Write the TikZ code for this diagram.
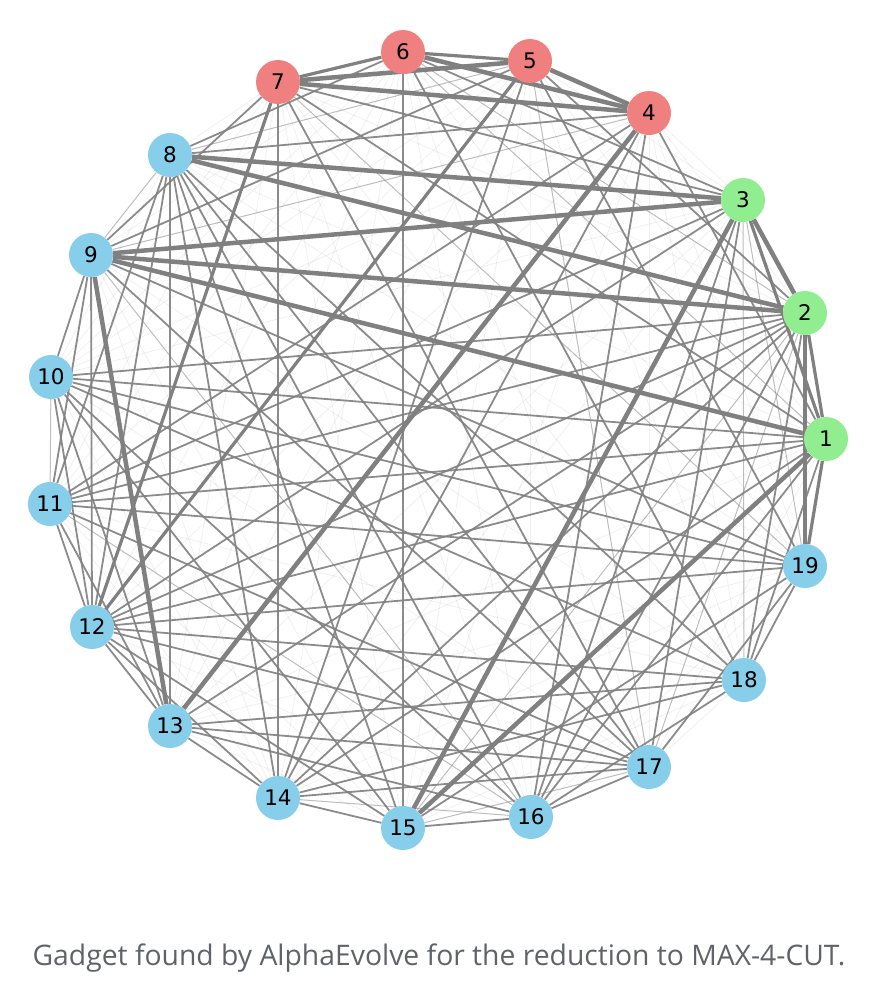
\documentclass[tikz,border=0pt]{standalone}
\usepackage{fontspec}
\usetikzlibrary{backgrounds}
\newfontfamily\labelfont{DejaVu Sans}
\newfontfamily\capfont{Open Sans}
\definecolor{redv}{HTML}{F08080}
\definecolor{greenv}{HTML}{90EE90}
\definecolor{bluev}{HTML}{87CEEB}
\definecolor{edgegray}{HTML}{808080}
\definecolor{capgray}{HTML}{5F6368}

\tikzset{
  vert/.style={circle, minimum size=44pt, inner sep=0pt,
    font=\labelfont\fontsize{21.5}{26}\selectfont},
  redvert/.style={vert, fill=redv},
  greenvert/.style={vert, fill=greenv},
  bluevert/.style={vert, fill=bluev},
  heavyedge/.style={draw=edgegray, line width=4.5pt},
  semiedge/.style={draw=edgegray, line width=3.2pt},
  midedge/.style={draw=edgegray, line width=1.8pt, draw opacity=.9},
  thinedge/.style={draw=edgegray, line width=1pt, draw opacity=.45},
  faintedge/.style={draw=edgegray, line width=.8pt, draw opacity=.12}
}

\begin{document}
\begin{tikzpicture}[x=1pt,y=-1pt]
\useasboundingbox (0,0) rectangle (870,1002);

\node[greenvert] (n1) at (826,439) {1};
\node[greenvert] (n2) at (805,313) {2};
\node[greenvert] (n3) at (743,200) {3};
\node[redvert] (n4) at (649,113) {4};
\node[redvert] (n5) at (530,61) {5};
\node[redvert] (n6) at (403,52) {6};
\node[redvert] (n7) at (278,82) {7};
\node[bluevert] (n8) at (170,155) {8};
\node[bluevert] (n9) at (91,255) {9};
\node[bluevert] (n10) at (51,377) {10};
\node[bluevert] (n11) at (50,504) {11};
\node[bluevert] (n12) at (92,627) {12};
\node[bluevert] (n13) at (170,726) {13};
\node[bluevert] (n14) at (278,798) {14};
\node[bluevert] (n15) at (403,828) {15};
\node[bluevert] (n16) at (531,817) {16};
\node[bluevert] (n17) at (649,767) {17};
\node[bluevert] (n18) at (744,680) {18};
\node[bluevert] (n19) at (805,566) {19};

\begin{pgfonlayer}{background}
% all pairs, very light
\foreach \i in {1,...,19}{
  \foreach \j in {1,...,19}{
    \ifnum\j>\i \draw[faintedge] (n\i) -- (n\j); \fi
  }
}

\draw[thinedge] (n18) -- (n3);
\draw[thinedge] (n8) -- (n9);
\draw[thinedge] (n10) -- (n11);
\draw[thinedge] (n3) -- (n19);
\draw[thinedge] (n2) -- (n15);
\draw[thinedge] (n2) -- (n17);
\draw[thinedge] (n5) -- (n17);
\draw[thinedge] (n6) -- (n1);
\draw[thinedge] (n4) -- (n9);
\draw[thinedge] (n8) -- (n5);
\draw[thinedge] (n6) -- (n2);
\draw[thinedge] (n7) -- (n19);
\draw[thinedge] (n15) -- (n17);
\draw[thinedge] (n14) -- (n16);
\draw[thinedge] (n11) -- (n16);
\draw[thinedge] (n9) -- (n16);

\draw[midedge] (n7) -- (n3);
\draw[midedge] (n7) -- (n9);
\draw[midedge] (n7) -- (n14);
\draw[midedge] (n7) -- (n1);
\draw[midedge] (n7) -- (n17);
\draw[midedge] (n6) -- (n15);
\draw[midedge] (n6) -- (n8);
\draw[midedge] (n6) -- (n3);
\draw[midedge] (n6) -- (n18);
\draw[midedge] (n5) -- (n14);
\draw[midedge] (n5) -- (n2);
\draw[midedge] (n5) -- (n9);
\draw[midedge] (n5) -- (n19);
\draw[midedge] (n4) -- (n11);
\draw[midedge] (n4) -- (n8);
\draw[midedge] (n4) -- (n16);
\draw[midedge] (n4) -- (n1);
\draw[midedge] (n8) -- (n18);
\draw[midedge] (n8) -- (n12);
\draw[midedge] (n8) -- (n13);
\draw[midedge] (n8) -- (n14);
\draw[midedge] (n8) -- (n15);
\draw[midedge] (n8) -- (n16);
\draw[midedge] (n8) -- (n11);
\draw[midedge] (n9) -- (n10);
\draw[midedge] (n9) -- (n11);
\draw[midedge] (n9) -- (n12);
\draw[midedge] (n9) -- (n19);
\draw[midedge] (n9) -- (n17);
\draw[midedge] (n10) -- (n1);
\draw[midedge] (n10) -- (n2);
\draw[midedge] (n10) -- (n12);
\draw[midedge] (n10) -- (n13);
\draw[midedge] (n10) -- (n16);
\draw[midedge] (n10) -- (n18);
\draw[midedge] (n10) -- (n15);
\draw[midedge] (n11) -- (n1);
\draw[midedge] (n11) -- (n19);
\draw[midedge] (n11) -- (n3);
\draw[midedge] (n11) -- (n12);
\draw[midedge] (n11) -- (n13);
\draw[midedge] (n11) -- (n2);
\draw[midedge] (n11) -- (n17);
\draw[midedge] (n12) -- (n1);
\draw[midedge] (n12) -- (n2);
\draw[midedge] (n12) -- (n3);
\draw[midedge] (n12) -- (n19);
\draw[midedge] (n12) -- (n18);
\draw[midedge] (n12) -- (n17);
\draw[midedge] (n12) -- (n15);
\draw[midedge] (n12) -- (n14);
\draw[midedge] (n12) -- (n13);
\draw[midedge] (n13) -- (n14);
\draw[midedge] (n13) -- (n16);
\draw[midedge] (n13) -- (n17);
\draw[midedge] (n13) -- (n18);
\draw[midedge] (n13) -- (n2);
\draw[midedge] (n14) -- (n1);
\draw[midedge] (n14) -- (n2);
\draw[midedge] (n14) -- (n4);
\draw[midedge] (n14) -- (n17);
\draw[midedge] (n14) -- (n15);
\draw[midedge] (n14) -- (n18);
\draw[midedge] (n15) -- (n16);
\draw[midedge] (n15) -- (n19);
\draw[midedge] (n16) -- (n3);
\draw[midedge] (n16) -- (n2);
\draw[midedge] (n16) -- (n1);
\draw[midedge] (n16) -- (n18);
\draw[midedge] (n16) -- (n17);
\draw[midedge] (n17) -- (n3);
\draw[midedge] (n17) -- (n19);
\draw[midedge] (n17) -- (n8);
\draw[midedge] (n18) -- (n2);
\draw[midedge] (n18) -- (n1);
\draw[midedge] (n18) -- (n19);
\draw[midedge] (n19) -- (n10);

\draw[semiedge] (n6) -- (n5);
\draw[semiedge] (n7) -- (n6);
\draw[semiedge] (n7) -- (n12);
\draw[semiedge] (n1) -- (n2);
\draw[semiedge] (n3) -- (n1);
\draw[semiedge] (n1) -- (n19);
\draw[semiedge] (n5) -- (n12);

\draw[heavyedge] (n7) -- (n5);
\draw[heavyedge] (n7) -- (n4);
\draw[heavyedge] (n6) -- (n4);
\draw[heavyedge] (n5) -- (n4);
\draw[heavyedge] (n8) -- (n3);
\draw[heavyedge] (n8) -- (n2);
\draw[heavyedge] (n9) -- (n3);
\draw[heavyedge] (n9) -- (n2);
\draw[heavyedge] (n9) -- (n1);
\draw[heavyedge] (n9) -- (n13);
\draw[heavyedge] (n4) -- (n13);
\draw[heavyedge] (n3) -- (n15);
\draw[heavyedge] (n1) -- (n15);
\draw[heavyedge] (n2) -- (n19);
\draw[heavyedge] (n3) -- (n2);
\end{pgfonlayer}

\node[text=capgray, font=\capfont\fontsize{28.3}{34}\selectfont] (caption) at (439,958)
  {Gadget found by AlphaEvolve for the reduction to MAX-4-CUT.};
\end{tikzpicture}
\end{document}
